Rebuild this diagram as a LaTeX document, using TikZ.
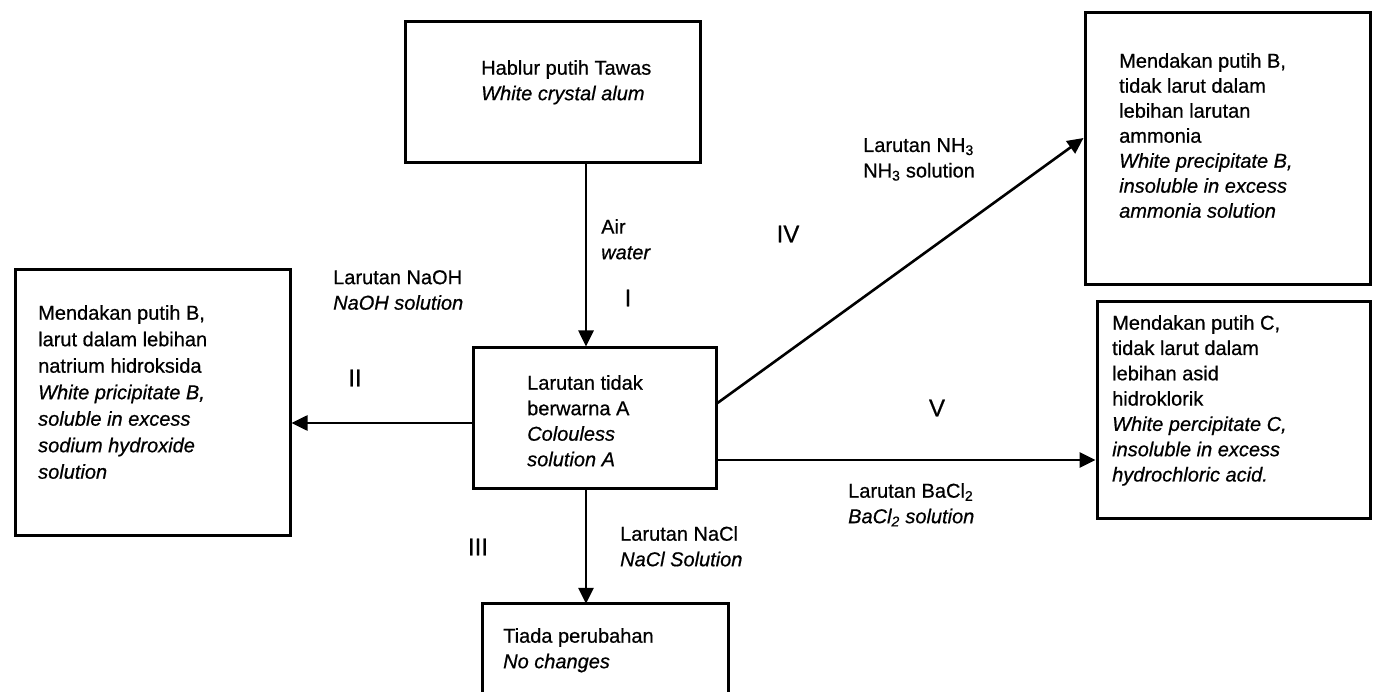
\documentclass[tikz,border=0pt]{standalone}
\usepackage{fontspec}
\setmainfont{Liberation Sans}[FakeBold=0.6, ItalicFeatures={FakeBold=0.6}]
\usetikzlibrary{arrows.meta}
\begin{document}
\begin{tikzpicture}[x=1pt,y=-1pt,
  box/.style={draw, line width=3pt, inner sep=0pt},
  txt/.style={anchor=north west, inner sep=0pt, align=left, font=\fontsize{20}{25.5}\selectfont},
  num/.style={inner sep=0pt, font=\fontsize{24}{28}\selectfont},
  arr/.style={line width=2.6pt, -{Triangle[length=16pt,width=15pt]}}]
\useasboundingbox[fill=white] (0,0) rectangle (1379,692);
% boxes
\node[box, minimum width=295pt, minimum height=141pt] (top) at (552.5,92.5) {};
\node[box, minimum width=243pt, minimum height=140pt] (cen) at (594.5,418) {};
\node[box, minimum width=275pt, minimum height=265pt] (lft) at (152.5,402.5) {};
\node[box, minimum width=285pt, minimum height=272pt] (rt) at (1227.5,149) {};
\node[box, minimum width=273pt, minimum height=216pt] (rb) at (1233.5,410) {};
\node[draw=none, inner sep=0pt, minimum width=245pt, minimum height=120pt] (bot) at (605.5,664) {};
\coordinate (bb) at (0,692);
\draw[line width=3pt] (bot.north west |- bb) -- (bot.north west) -- (bot.north east) -- (bot.north east |- bb);
% box texts
\node[txt] (ttop) at (481,60) {Hablur putih Tawas\\\itshape White crystal alum};
\node[txt] (tcen) at (527,375) {Larutan tidak\\berwarna A\\\itshape Colouless\\\itshape solution A};
\node[txt, font=\fontsize{20}{26.5}\selectfont] (tlft) at (38,305) {Mendakan putih B,\\larut dalam lebihan\\natrium hidroksida\\\itshape White pricipitate B,\\\itshape soluble in excess\\\itshape sodium hydroxide\\\itshape solution};
\node[txt, font=\fontsize{20}{25}\selectfont] (trt) at (1119,53) {Mendakan putih B,\\tidak larut dalam\\lebihan larutan\\ammonia\\\itshape White precipitate B,\\\itshape insoluble in excess\\\itshape ammonia solution};
\node[txt, font=\fontsize{20}{25.3}\selectfont] (trb) at (1112,315) {Mendakan putih C,\\tidak larut dalam\\lebihan asid\\hidroklorik\\\itshape White percipitate C,\\\itshape insoluble in excess\\\itshape hydrochloric acid.};
\node[txt] (tbot) at (503,628) {Tiada perubahan\\\itshape No changes};
% connectors
\coordinate (xa) at (586,0);
\coordinate (yb) at (0,423);
\coordinate (y4s) at (0,403);
\coordinate (y4e) at (0,138);
\coordinate (y5) at (0,460);
\draw[arr] (top.south -| xa) -- (cen.north -| xa);
\draw[arr] (cen.south -| xa) -- (bot.north -| xa);
\draw[arr] (cen.west |- yb) -- (lft.east |- yb);
\draw[arr] (cen.east |- y4s) -- (rt.west |- y4e);
\draw[arr] (cen.east |- y5) -- (rb.west |- y5);
% labels
\node[txt] (lair) at (601,219) {Air\\\itshape water};
\node[num] (nI) at (628,298) {I};
\node[txt] (lnaoh) at (333,270) {Larutan NaOH\\\itshape NaOH solution};
\node[num] (nII) at (355,378) {II};
\node[num] (nIII) at (478,547) {III};
\node[txt] (lnacl) at (620,526) {Larutan NaCl\\\itshape NaCl Solution};
\node[num] (nIV) at (788,234) {IV};
\node[txt] (lnh) at (863,138) {Larutan NH\textsubscript{3}\\NH\textsubscript{3} solution};
\node[num] (nV) at (937,408) {V};
\node[txt] (lba) at (848,483) {Larutan BaCl\textsubscript{2}\\\itshape BaCl\textsubscript{2} solution};
\end{tikzpicture}
\end{document}
